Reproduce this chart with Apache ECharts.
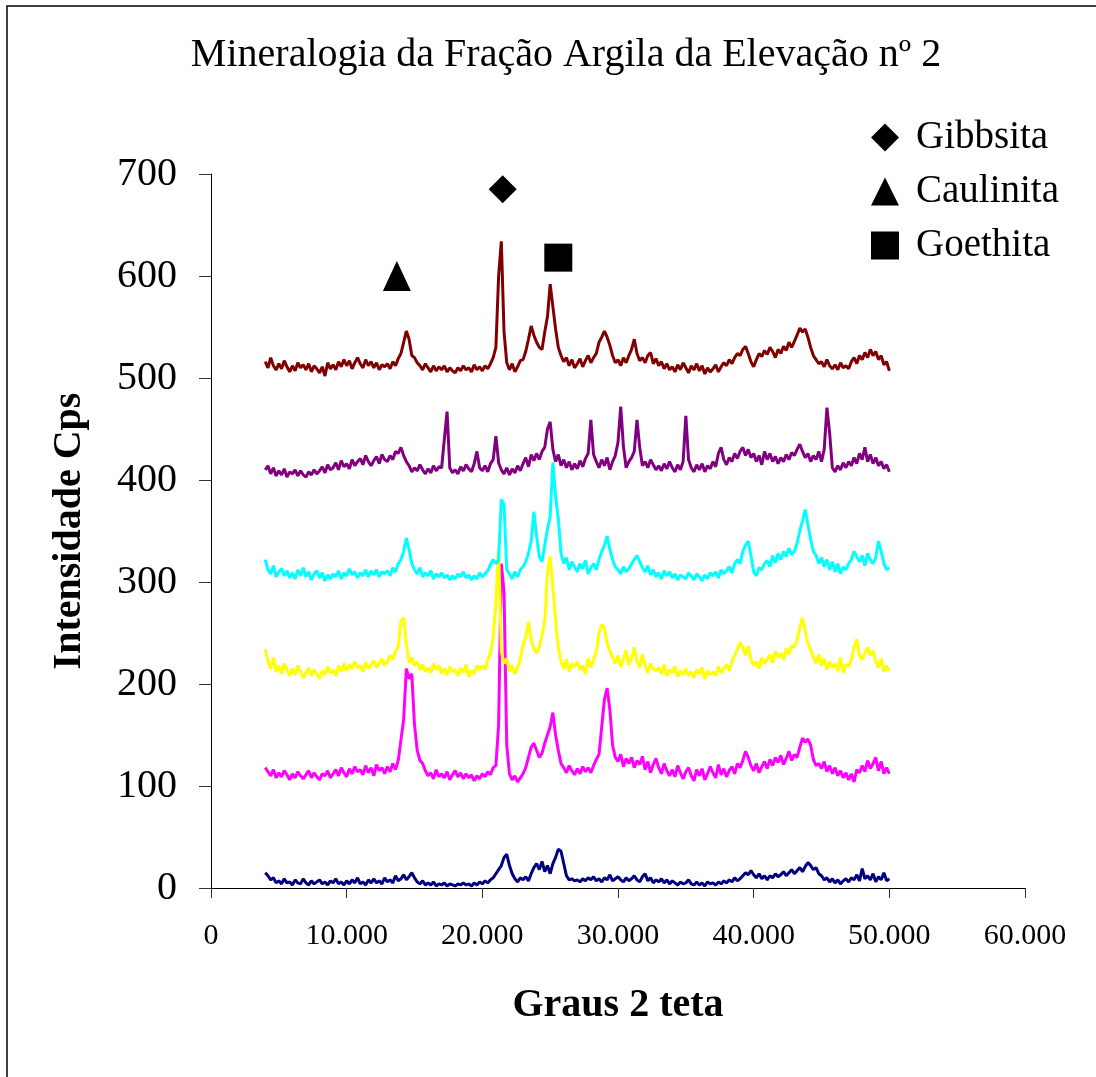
<!DOCTYPE html>
<html><head><meta charset="utf-8">
<script src="https://cdn.jsdelivr.net/npm/echarts@6/dist/echarts.min.js"></script>
<style>html,body{margin:0;padding:0;background:#fff}#c{width:1096px;height:1077px}</style>
</head><body><div id="c"></div>
<script>
// sampling grid: 4.0 .. 50.0 degrees 2-theta, step 0.2
const X_START = 4, X_STEP = 0.2, N_POINTS = 231;
const xTickLabels = ['0','10.000','20.000','30.000','40.000','50.000','60.000'];
const yTicks = [0,100,200,300,400,500,600,700];

const navy = [
15,12,8,10,5, 7,4,9,5,6, 3,8,5,4,9, 5,3,7,4,6, 8,4,6,3,7, 5,9,4,6,3,
7,4,8,5,10, 4,6,3,8,5, 9,5,7,4,10, 6,8,5,12,7, 9,13,8,11,15, 10,6,4,7,3,
5,3,6,2,4, 3,5,2,4,3, 2,4,3,5,3, 4,2,5,3,6, 4,7,5,8,10, 14,18,22,30,33,
22,14,9,6,10, 8,11,7,14,20, 24,18,26,16,22, 14,24,30,38,36, 24,12,8,9,7,
8,6,9,7,10, 8,11,7,9,6, 10,8,13,7,9, 11,8,6,10,7, 9,12,8,6,11, 14,7,10,5,8,
6,9,5,8,4, 7,5,3,6,4, 5,8,4,3,6, 3,5,2,6,4, 5,3,6,4,7, 5,8,6,10,7,
9,12,15,13,17, 13,10,14,9,12, 8,12,10,14,11, 13,16,12,15,18, 14,17,20,16,21,
25,22,18,20,14, 12,8,10,6,9, 5,8,4,7,9, 6,10,8,13,7, 19,9,12,8,14, 6,11,8,15,7, 9];

const magenta = [
118,114,110,116,108, 113,109,115,111,106, 112,108,114,110,107, 111,115,108,113,109,
106,112,110,115,108, 112,116,110,118,113, 109,117,112,119,114, 116,111,120,113,118,
110,121,115,118,112, 119,114,122,116,125, 145,165,215,205,210, 160,135,125,122,115,
110,113,107,116,109, 112,108,114,106,111, 115,109,113,107,112, 108,111,105,110,107,
112,109,114,111,118, 120,160,318,290,140, 112,106,110,104,108, 112,118,128,138,142,
135,128,132,142,150, 158,172,150,135,122, 118,113,120,115,111, 117,112,119,114,118,
113,120,126,131,158, 185,196,175,140,128, 124,131,119,127,122, 128,118,125,121,129,
116,124,113,121,127, 118,112,122,115,110, 116,109,120,113,107, 114,118,110,105,116,
110,117,106,112,119, 113,108,121,111,117, 109,115,119,112,122, 118,125,134,128,120,
115,122,113,119,124, 117,126,120,128,123, 130,121,127,134,125, 131,128,138,147,143,
146,140,126,120,122, 117,124,114,120,112, 118,110,115,108,113, 106,112,104,116,113,
120,114,125,117,122, 128,115,124,112,118, 112];

const yellow = [
234,222,215,226,212, 218,210,220,214,208, 215,209,218,212,206, 211,216,208,214,210,
205,213,209,217,211, 214,208,218,212,220, 213,219,215,222,216, 218,212,221,215,219,
223,216,220,225,218, 222,228,224,232,236, 262,265,240,221,226, 218,222,214,219,212,
216,211,220,214,218, 210,215,209,217,212, 214,208,216,211,219, 207,213,210,218,214,
218,214,224,230,246, 280,334,232,220,225, 212,218,210,216,225, 238,246,261,244,235,
230,236,248,262,310, 325,295,262,236,222, 215,224,212,220,217, 222,214,218,210,225,
216,224,232,250,258, 255,240,232,226,220, 228,217,224,233,219, 225,236,222,216,229,
218,211,220,215,213, 216,210,219,208,214, 211,217,207,213,209, 215,208,212,206,214,
210,216,205,213,209, 212,208,217,211,215, 219,213,222,228,234, 241,236,228,237,224,
218,222,215,226,220, 224,229,221,232,226, 230,224,235,229,238, 236,244,255,265,252,
240,234,226,220,229, 218,225,214,222,216, 220,213,226,211,219, 217,224,236,244,228,
224,230,236,228,233, 222,216,225,212,218, 213];

const cyan = [
322,312,308,316,305, 310,313,306,311,304, 309,303,312,306,314, 305,310,302,308,311,
304,309,301,307,303, 308,305,311,303,309, 306,313,307,310,304, 309,306,312,305,311,
307,312,305,310,308, 311,306,314,310,318, 322,330,343,332,318, 312,308,314,305,309,
306,311,303,308,305, 309,304,307,302,306, 303,308,305,310,304, 307,302,306,303,309,
305,308,311,317,322, 318,322,381,376,312, 308,303,310,305,312, 315,320,328,340,369,
345,325,320,336,352, 364,417,384,362,328, 318,324,312,320,315, 310,318,313,321,308,
314,318,312,322,330, 336,345,332,322,315, 312,308,315,310,313, 318,322,326,320,314,
310,316,307,312,305, 309,303,311,306,310, 304,308,302,307,305, 303,309,306,302,308,
305,301,307,303,309, 306,310,304,312,308, 311,315,309,318,322, 318,330,336,340,326,
310,306,314,312,318, 321,315,326,319,328, 322,330,325,333,327, 330,338,350,360,371,
356,342,330,326,318, 324,315,322,312,320, 310,318,308,315,312, 318,322,330,325,320,
326,316,328,322,318, 324,340,330,318,312, 314];

const purple = [
410,414,406,412,404, 409,405,411,403,408, 406,410,404,409,405, 403,408,405,410,406,
409,413,407,415,410, 412,417,410,419,413, 416,411,420,414,418, 421,415,424,418,414,
419,423,416,425,420, 418,424,420,428,426, 432,424,418,414,408, 412,409,415,410,406,
411,407,414,409,413, 412,440,467,412,407, 410,406,413,409,415, 411,408,416,428,412,
409,414,408,416,420, 443,417,410,406,412, 405,411,407,414,409, 416,422,413,425,419,
426,420,428,432,450, 457,430,418,425,414, 420,412,418,410,416, 411,419,413,421,426,
459,425,418,412,420, 414,422,410,418,424, 437,472,433,412,418, 422,428,459,432,414,
418,412,420,415,410, 414,409,416,411,418, 412,408,415,410,418, 463,420,412,408,415,
410,416,408,414,411, 418,413,426,432,420, 415,422,418,426,421, 428,432,424,430,422,
426,418,424,415,428, 420,426,418,423,416, 422,418,425,420,427, 424,430,435,428,422,
426,418,424,420,428, 418,430,471,446,412, 408,414,410,417,412, 418,414,422,416,426,
420,432,418,425,416, 422,414,418,411,415, 408];

const darkred = [
516,510,520,512,508, 514,509,517,511,506, 512,507,515,510,513, 508,514,506,512,509,
505,511,502,515,509, 513,508,516,511,518, 512,517,509,515,520, 514,510,518,512,516,
510,515,508,513,511, 514,509,516,512,519, 524,535,546,538,522, 520,515,512,508,514,
510,506,512,507,511, 508,512,506,510,507, 505,510,507,512,508, 510,506,513,508,511,
507,512,509,514,520, 530,600,634,545,515, 508,514,506,511,517, 518,526,538,551,542,
535,530,528,545,560, 592,570,548,530,522, 516,520,512,518,510, 514,519,511,517,522,
515,520,524,535,540, 546,540,532,522,515, 518,512,520,515,522, 528,538,524,517,520,
515,522,525,514,519, 512,516,509,514,508, 511,506,513,508,515, 510,505,512,508,514,
507,512,504,510,506, 509,513,506,511,515, 512,518,514,520,524, 522,528,531,524,516,
511,518,524,521,527, 523,530,526,520,528, 524,531,527,535,530, 536,542,549,545,548,
540,530,522,518,514, 516,511,518,512,509, 513,508,515,510,512, 509,516,520,514,522,
518,525,520,528,522, 526,518,522,513,516, 507];

// mineral markers placed over the patterns
const gibbsita = [[21.5, 685]];
const caulinita = [[13.7, 600]];
const goethita = [[25.6, 618]];

const lineNames = ['Amostra 1','Amostra 2','Amostra 3','Amostra 4','Amostra 5','Amostra 6'];
const lineColors = ['#000080','#FF00FF','#FFFF00','#00FFFF','#800080','#800000'];
const lineValues = [navy, magenta, yellow, cyan, purple, darkred];

const xs = [];
for (let i = 0; i < N_POINTS; i++) xs.push(Math.round((X_START + X_STEP * i) * 10) / 10);

const FONT = 'Liberation Serif, Times New Roman, serif';

const series = lineValues.map((vals, k) => ({
  name: lineNames[k], type: 'line', showSymbol: false, symbol: 'none',
  data: xs.map((x, i) => [x, vals[i]]),
  lineStyle: { color: lineColors[k], width: 3 },
  itemStyle: { color: lineColors[k] },
  z: 2 + k
}));
series.push(
  { name: 'Gibbsita', type: 'scatter', symbol: 'diamond', symbolSize: 28, data: gibbsita, itemStyle: { color: '#000', opacity: 1 }, z: 20 },
  { name: 'Caulinita', type: 'scatter', symbol: 'triangle', symbolSize: [28, 30], data: caulinita, itemStyle: { color: '#000', opacity: 1 }, z: 20 },
  { name: 'Goethita', type: 'scatter', symbol: 'rect', symbolSize: 28, data: goethita, itemStyle: { color: '#000', opacity: 1 }, z: 20 }
);

const chart = echarts.init(document.getElementById('c'), null, { renderer: 'canvas' });
chart.setOption({
  animation: false,
  backgroundColor: '#fff',
  textStyle: { fontFamily: FONT },
  title: {
    text: 'Mineralogia da Fração Argila da Elevação nº 2',
    left: 561, top: 30, textAlign: 'center',
    textStyle: { fontFamily: FONT, fontSize: 40, fontWeight: 'normal', color: '#000' }
  },
  legend: {
    orient: 'vertical', left: 866, top: 113, itemWidth: 28, itemHeight: 28, itemGap: 15,
    selectedMode: false,
    data: [{ name: 'Gibbsita', icon: 'diamond' }, { name: 'Caulinita', icon: 'triangle' }, { name: 'Goethita', icon: 'rect' }],
    itemStyle: { opacity: 1 },
    textStyle: { fontFamily: FONT, fontSize: 39, color: '#000', padding: [0, 0, 0, 12] }
  },
  graphic: [{
    type: 'rect', shape: { x: 7, y: 6, width: 1200, height: 1200 },
    style: { fill: 'none', stroke: '#000', lineWidth: 1.5 }, z: 100, silent: true
  }],
  grid: { left: 211, top: 174, width: 814, height: 714 },
  xAxis: {
    type: 'value', min: 0, max: 60, interval: 10,
    axisLine: { show: true, lineStyle: { color: '#000', width: 1 } },
    axisTick: { show: true, length: 10, lineStyle: { color: '#333' } },
    axisLabel: { fontFamily: FONT, fontSize: 30, color: '#000', margin: 33,
      formatter: v => xTickLabels[Math.round(v / 10)] },
    splitLine: { show: false },
    name: 'Graus 2 teta', nameLocation: 'middle', nameGap: 98,
    nameTextStyle: { fontFamily: FONT, fontSize: 40, fontWeight: 'bold', color: '#000' }
  },
  yAxis: {
    type: 'value', min: 0, max: 700, interval: 100,
    axisLine: { show: true, lineStyle: { color: '#000', width: 1 } },
    axisTick: { show: true, length: 12, lineStyle: { color: '#333' } },
    axisLabel: { fontFamily: FONT, fontSize: 40, color: '#000', margin: 34,
      formatter: v => String(yTicks[Math.round(v / 100)]) },
    splitLine: { show: false },
    name: 'Intensidade Cps', nameLocation: 'middle', nameGap: 121,
    nameTextStyle: { fontFamily: FONT, fontSize: 40, fontWeight: 'bold', color: '#000' }
  },
  series: series
});
</script></body></html>
